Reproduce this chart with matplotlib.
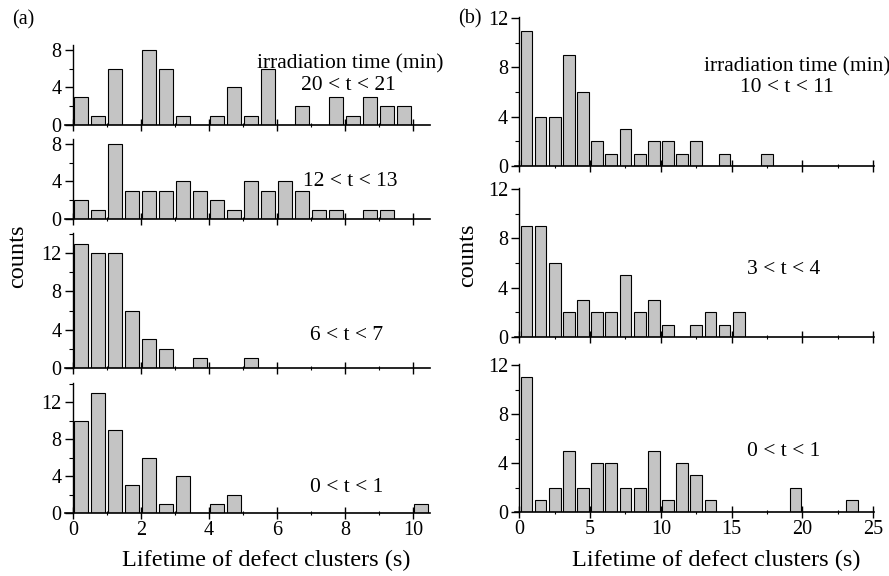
import numpy as np
import matplotlib

matplotlib.use("Agg")
import matplotlib.pyplot as plt
from matplotlib.ticker import MultipleLocator

plt.rcParams["font.family"] = ["Liberation Serif", "DejaVu Serif"]

# ---- data: counts per lifetime bin ----
# (a) bins of 0.5 s starting at 0
a_20_21 = [3, 1, 6, 0, 8, 6, 1, 0, 1, 4, 1, 6, 0, 2, 0, 3, 1, 3, 2, 2]
a_12_13 = [2, 1, 8, 3, 3, 3, 4, 3, 2, 1, 4, 3, 4, 3, 1, 1, 0, 1, 1]
a_6_7 = [13, 12, 12, 6, 3, 2, 0, 1, 0, 0, 1]
a_0_1 = [10, 13, 9, 3, 6, 1, 4, 0, 1, 2, 0, 0, 0, 0, 0, 0, 0, 0, 0, 0, 1]
# (b) bins of 1 s starting at 0
b_10_11 = [11, 4, 4, 9, 6, 2, 1, 3, 1, 2, 2, 1, 2, 0, 1, 0, 0, 1]
b_3_4 = [9, 9, 6, 2, 3, 2, 2, 5, 2, 3, 1, 0, 1, 2, 1, 2]
b_0_1 = [11, 1, 2, 5, 2, 4, 4, 2, 2, 5, 1, 4, 3, 1, 0, 0, 0, 0, 0, 2, 0, 0, 0, 1]

W, H = 889, 576
fig = plt.figure(figsize=(W / 100, H / 100), dpi=100)


def px_axes(x0, x1, top, bottom):
    return fig.add_axes([x0 / W, 1 - bottom / H, (x1 - x0) / W, (bottom - top) / H])


def style(ax, xlim, ylim, xmaj, xmin, show_xlabels):
    ax.set_xlim(*xlim)
    ax.set_ylim(*ylim)
    for s in ["top", "right"]:
        ax.spines[s].set_visible(False)
    ax.spines["left"].set_position(("data", 0))
    ax.spines["left"].set_linewidth(1.0)
    ax.spines["bottom"].set_linewidth(1.2)
    ax.xaxis.set_major_locator(MultipleLocator(xmaj))
    ax.xaxis.set_minor_locator(MultipleLocator(xmin))
    ax.yaxis.set_major_locator(MultipleLocator(4))
    ax.yaxis.set_minor_locator(MultipleLocator(2))
    ax.tick_params(axis="x", which="major", direction="inout", length=9, width=1.0,
                   labelsize=14.5, labelbottom=show_xlabels, pad=1)
    ax.tick_params(axis="x", which="minor", direction="inout", length=3, width=0.8)
    ax.tick_params(axis="y", which="major", direction="out", length=6, width=1.0,
                   labelsize=14.5, pad=2)
    ax.tick_params(axis="y", which="minor", direction="out", length=3, width=0.8)


def bars(ax, counts, binw, off, width):
    edges = np.arange(len(counts)) * binw
    ax.bar(edges + off, counts, width=width, align="edge", color="#c4c4c4",
           edgecolor="black", linewidth=0.8, zorder=2)


# ---- (a) ----
left_panels = [(a_20_21, 45, 125, 8.5), (a_12_13, 139, 219, 8.5),
               (a_6_7, 233, 368, 14.1), (a_0_1, 383, 513, 14.1)]
for i, (cnt, top, bot, ymax) in enumerate(left_panels):
    ax = px_axes(65, 430, top, bot)
    bars(ax, cnt, 0.5, 0.02, 0.42)
    style(ax, (-0.23, 10.5), (0, ymax), 2, 1, i == 3)

# ---- (b) ----
right_panels = [(b_10_11, 17, 166), (b_3_4, 188, 337), (b_0_1, 364, 512)]
for i, (cnt, top, bot) in enumerate(right_panels):
    ax = px_axes(515, 873.5, top, bot)
    bars(ax, cnt, 1.0, 0.09, 0.83)
    style(ax, (-0.3, 25.02), (0, 12.1), 5, 2.5, i == 2)


def ftext(x, y, s, size=15.5, **kw):
    fig.text(x / W, 1 - y / H, s, fontsize=size, ha="center", va="center", **kw)


ftext(23, 20, "(a)", 14.5)
ftext(470, 19, "(b)", 14.5)
ftext(18, 256, "counts", 17.5, rotation=90)
ftext(468, 255, "counts", 17.5, rotation=90)
ftext(266, 560, "Lifetime of defect clusters (s)", 17.5)
ftext(716, 560, "Lifetime of defect clusters (s)", 17.5)

ftext(350, 64, "irradiation time (min)")
ftext(348, 85, "20 < t < 21")
ftext(350, 182, "12 < t < 13")
ftext(347, 336, "6 < t < 7")
ftext(347, 487, "0 < t < 1")

ftext(797, 67, "irradiation time (min)")
ftext(787, 88, "10 < t < 11")
ftext(784, 270, "3 < t < 4")
ftext(784, 451, "0 < t < 1")

fig.savefig("out.png", dpi=100)
